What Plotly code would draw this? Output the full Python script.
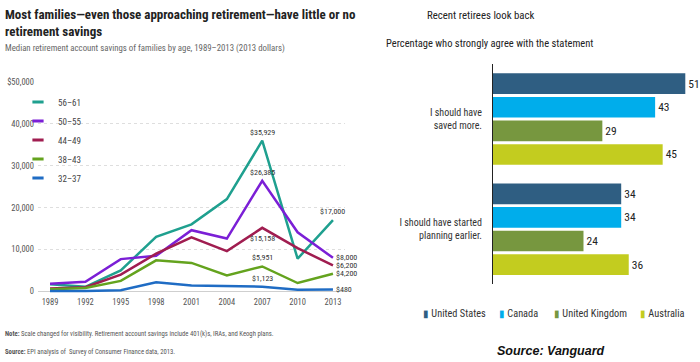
import plotly.graph_objects as go

# ---------------- Left chart data ----------------
years = [1989, 1992, 1995, 1998, 2001, 2004, 2007, 2010, 2013]
age_56_61 = [1700, 1100, 5000, 13000, 16000, 22000, 35929, 7800, 17000]
age_50_55 = [1800, 2300, 7700, 8500, 14600, 12600, 26385, 14100, 8000]
age_44_49 = [700, 1000, 4000, 9000, 12900, 9600, 15158, 10300, 6200]
age_38_43 = [500, 800, 2500, 7400, 6800, 3800, 5951, 2000, 4200]
age_32_37 = [100, 100, 300, 2200, 1400, 1300, 1123, 400, 480]
series_names = ["56–61", "50–55", "44–49", "38–43", "32–37"]
series_colors = ["#1fa08f", "#7b1fd6", "#a01d50", "#64a31e", "#1f6cc4"]
y_tick_vals = [0, 10000, 20000, 30000, 40000, 50000]
y_tick_text = ["0", "10,000", "20,000", "30,000", "40,000", "$50,000"]

# labelled points: (series, year, placement)
label_points = [
    ("56–61", 2007, "above"), ("50–55", 2007, "above"), ("44–49", 2007, "below"),
    ("38–43", 2007, "above"), ("32–37", 2007, "above"), ("56–61", 2013, "above"),
    ("50–55", 2013, "right"), ("44–49", 2013, "right"), ("38–43", 2013, "right"),
    ("32–37", 2013, "right"),
]

# ---------------- Right chart data ----------------
statements = ["I should have<br>saved more.", "I should have started<br>planning earlier."]
countries = ["United States", "Canada", "United Kingdom", "Australia"]
united_states = [51, 34]
canada = [43, 34]
united_kingdom = [29, 24]
australia = [45, 36]
country_colors = ["#2f5e82", "#00adeb", "#77973f", "#c3cc1f"]

NARROW = "Roboto Condensed, Liberation Sans Narrow, Arial Narrow, sans-serif"
W, H = 700, 362

def px_x(p):
    return p / W

def px_y(p):
    return 1 - p / H

fig = go.Figure()

series_values = [age_56_61, age_50_55, age_44_49, age_38_43, age_32_37]
for name, vals, col in zip(series_names, series_values, series_colors):
    fig.add_trace(go.Scatter(
        x=years, y=vals, mode="lines", name=name, legendgroup=name,
        line=dict(color=col, width=2.5), showlegend=False,
        xaxis="x", yaxis="y", cliponaxis=False, hoverinfo="x+y+name"))
    # legend entry with a short dash symbol
    fig.add_trace(go.Scatter(
        x=[None], y=[None], mode="markers", name=name, legendgroup=name,
        marker=dict(symbol="line-ew", size=8, line=dict(color=col, width=3)),
        legend="legend", xaxis="x", yaxis="y"))

annotations = []
lookup = dict(zip(series_names, series_values))
for name, yr, place in label_points:
    v = lookup[name][years.index(yr)]
    txt = "${:,}".format(v)
    a = dict(x=yr, y=v, xref="x", yref="y", text=txt, showarrow=False,
             font=dict(family=NARROW, size=8, color="#333"))
    if place == "above":
        a.update(yanchor="bottom", yshift=2)
    elif place == "below":
        a.update(yanchor="top", yshift=-4)
    else:
        a.update(xanchor="left", xshift=1, yanchor="middle")
    annotations.append(a)

for country, vals, col in zip(countries, [united_states, canada, united_kingdom, australia], country_colors):
    fig.add_trace(go.Bar(
        y=statements, x=vals, orientation="h", name=country,
        marker=dict(color=col, line=dict(width=0)),
        text=vals, textposition="outside", cliponaxis=False,
        textfont=dict(family=NARROW, size=11.5, color="#222"),
        xaxis="x2", yaxis="y2", showlegend=False))

# Titles / notes (left)
annotations += [
    dict(xref="paper", yref="paper", x=px_x(3), y=px_y(18), xanchor="left", yanchor="middle",
         align="left", showarrow=False,
         text="<b>Most families—even those approaching retirement—have little or no<br>retirement savings</b>",
         font=dict(family=NARROW, size=13, color="#222")),
    dict(xref="paper", yref="paper", x=px_x(3), y=px_y(44), xanchor="left", yanchor="middle",
         showarrow=False,
         text="Median retirement account savings of families by age, 1989–2013 (2013 dollars)",
         font=dict(family=NARROW, size=8.8, color="#666")),
    dict(xref="paper", yref="paper", x=px_x(3), y=px_y(335), xanchor="left", yanchor="middle",
         showarrow=False,
         text="<b>Note:</b> Scale changed for visibility. Retirement account savings include 401(k)s, IRAs, and Keogh plans.",
         font=dict(family=NARROW, size=6.7, color="#555")),
    dict(xref="paper", yref="paper", x=px_x(3), y=px_y(353), xanchor="left", yanchor="middle",
         showarrow=False,
         text="<b>Source:</b> EPI analysis of  Survey of Consumer Finance data, 2013.",
         font=dict(family=NARROW, size=6.7, color="#555")),
]

# Titles / legend / source (right)
annotations += [
    dict(xref="paper", yref="paper", x=px_x(481), y=px_y(11), xanchor="center", yanchor="middle",
         showarrow=False, text="Recent retirees look back",
         font=dict(family=NARROW, size=10.8, color="#222")),
    dict(xref="paper", yref="paper", x=px_x(384), y=px_y(39), xanchor="left", yanchor="middle",
         showarrow=False, text="Percentage who strongly agree with the statement",
         font=dict(family=NARROW, size=10.5, color="#222")),
    dict(xref="paper", yref="paper", x=px_x(551), y=px_y(352), xanchor="center", yanchor="middle",
         showarrow=False, text="<b><i>Source: Vanguard</i></b>",
         font=dict(family="Liberation Sans, Arial, sans-serif", size=12.5, color="#111")),
]
legend_x = [421, 497, 552, 638]
for country, col, lx in zip(countries, country_colors, legend_x):
    annotations.append(dict(
        xref="paper", yref="paper", x=px_x(lx), y=px_y(314), xanchor="left", yanchor="middle",
        showarrow=False,
        text="<span style='color:%s'>▮</span> %s" % (col, country),
        font=dict(family=NARROW, size=10.3, color="#333")))

fig.update_layout(
    width=W, height=H, margin=dict(l=0, r=0, t=0, b=0),
    paper_bgcolor="white", plot_bgcolor="white",
    font=dict(family=NARROW, color="#444"),
    bargap=0.143, bargroupgap=0.125, barmode="group",
    xaxis=dict(domain=[px_x(38), px_x(345)], range=[1987.98, 2014.02],
               tickvals=years, ticktext=[str(y) for y in years],
               showgrid=False, zeroline=False, showline=False, ticks="",
               tickfont=dict(family=NARROW, size=8.5, color="#555"), anchor="y"),
    yaxis=dict(domain=[px_y(295.5), px_y(78)], range=[-1000, 50000],
               tickvals=y_tick_vals, ticktext=y_tick_text,
               showgrid=True, gridcolor="#dedede", griddash="dot", gridwidth=1,
               zeroline=True, zerolinecolor="#cfcfcf", zerolinewidth=1,
               showline=False, ticks="", ticklabelstandoff=3,
               tickfont=dict(family=NARROW, size=8.5, color="#555"), anchor="x"),
    xaxis2=dict(domain=[px_x(493), 1.0], range=[0, 54.9], visible=False, anchor="y2"),
    yaxis2=dict(domain=[px_y(284), px_y(60)], range=[1.5, -0.5], type="category",
                showline=True, linecolor="#222", linewidth=1, showgrid=False,
                zeroline=False, ticks="", ticklabelstandoff=8,
                tickfont=dict(family=NARROW, size=10, color="#333"), anchor="x2"),
    legend=dict(x=px_x(18), y=px_y(84), xanchor="left", yanchor="top",
                bgcolor="rgba(0,0,0,0)", font=dict(family=NARROW, size=9, color="#444"),
                itemwidth=30, tracegroupgap=0),
    annotations=annotations,
    hovermode="closest",
)

fig.write_html("out.html", config={"displayModeBar": False},
               post_script="document.body.style.margin='0';")
